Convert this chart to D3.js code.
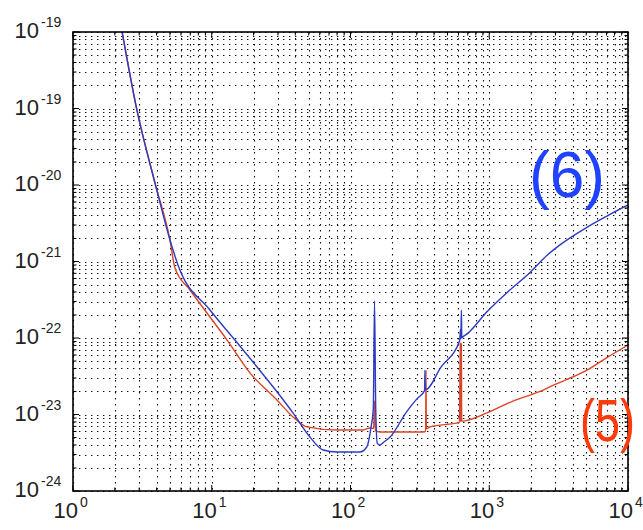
<!DOCTYPE html>
<html>
<head>
<meta charset="utf-8">
<script src="https://cdn.jsdelivr.net/npm/d3@7"></script>
<style>
  html, body { margin: 0; padding: 0; background: #fff; }
  #chart { width: 643px; height: 530px; }
  text { font-family: "Liberation Sans", Arial, sans-serif; }
</style>
</head>
<body>
<div id="chart"></div>
<script>
// Datos (frecuencia en Hz, amplitud)
const curve6Freq = [2.26, 2.89, 3.9, 5.0, 5.71, 9.71, 14.7, 21.2, 30, 38.5, 51, 63.4, 80, 117, 131, 140, 146, 149, 152, 156, 163, 175, 193, 255, 301, 342, 344, 346, 450, 612, 620, 624, 630, 634, 640, 700, 963, 1400, 1967, 2600, 3235, 5060, 7000, 10000];
const curve6Amp = [1.0e-18, 9.5e-20, 1.06e-20, 1.91e-21, 9.0e-22, 2.32e-22, 9.4e-23, 4.18e-23, 1.91e-23, 1.05e-23, 5.08e-24, 3.44e-24, 3.24e-24, 3.24e-24, 3.76e-24, 6.5e-24, 1.2e-23, 3.05e-22, 1.2e-23, 4.2e-24, 4.0e-24, 4.4e-24, 5.08e-24, 1.1e-23, 1.6e-23, 2.05e-23, 3.8e-23, 2.1e-23, 4.2e-23, 9.2e-23, 1.3e-22, 9.8e-23, 2.32e-22, 1.0e-22, 1.02e-22, 1.15e-22, 2.2e-22, 4.2e-22, 7.2e-22, 1.2e-21, 1.65e-21, 2.8e-21, 3.9e-21, 5.48e-21];

const curve5Freq = [2.26, 2.89, 3.9, 5.0, 5.43, 6.97, 9.71, 12.9, 18.9, 29.5, 38.5, 48.6, 80, 123, 138, 147, 149, 151, 163, 317, 348, 350, 352, 374, 610, 618, 621, 624, 627, 630, 633, 963, 1483, 2322, 2878, 4000, 5060, 7000, 10000];
const curve5Amp = [1.0e-18, 9.5e-20, 1.06e-20, 1.91e-21, 8.2e-22, 4.24e-22, 1.88e-22, 9.4e-23, 3.48e-23, 1.55e-23, 9.3e-24, 6.9e-24, 6.27e-24, 6.27e-24, 6.67e-24, 6.6e-24, 1.5e-23, 6.2e-24, 5.9e-24, 5.9e-24, 6.0e-24, 3.8e-23, 6.5e-24, 6.9e-24, 7.9e-24, 8.6e-23, 8.0e-24, 8.6e-23, 8.1e-24, 8.6e-23, 8.2e-24, 1.05e-23, 1.5e-23, 2.0e-23, 2.4e-23, 3.1e-23, 3.8e-23, 5.5e-23, 8.1e-23];

// Etiquetas de los ejes tal como aparecen (la de arriba repite -19)
const xTickValues = [1, 10, 100, 1000, 10000];
const xTickExp = ["0", "1", "2", "3", "4"];
const yTickValues = [1e-24, 1e-23, 1e-22, 1e-21, 1e-20, 1e-19, 1e-18];
const yTickExp = ["-24", "-23", "-22", "-21", "-20", "-19", "-19"];

const seriesLabels = ["(6)", "(5)"];

const COLORS = { C6: "#2d3bc0", C5: "#dc4427", L6: "#1f43ff", L5: "#ff3a0a" };

const W = 643, H = 530;
const M = { left: 73, right: 628, top: 32, bottom: 491 };

const svg = d3.select("#chart").append("svg")
  .attr("width", W).attr("height", H)
  .attr("viewBox", [0, 0, W, H]);

const x = d3.scaleLog().domain([1, 1e4]).range([M.left, M.right]);
const y = d3.scaleLog().domain([1e-24, 1e-18]).range([M.bottom, M.top]);

const isMajor = (v) => Math.abs(Math.log10(v) - Math.round(Math.log10(v))) < 1e-6;

// Rejilla punteada
const grid = svg.append("g")
  .attr("stroke", "#111")
  .attr("stroke-width", 1.1)
  .attr("stroke-dasharray", "1.4,4.6");

grid.selectAll("line.gx")
  .data(x.ticks())
  .join("line")
  .attr("class", "gx")
  .attr("x1", (d) => Math.round(x(d)) + 0.5)
  .attr("x2", (d) => Math.round(x(d)) + 0.5)
  .attr("y1", M.top)
  .attr("y2", M.bottom);

grid.selectAll("line.gy")
  .data(y.ticks())
  .join("line")
  .attr("class", "gy")
  .attr("y1", (d) => Math.round(y(d)) + 0.5)
  .attr("y2", (d) => Math.round(y(d)) + 0.5)
  .attr("x1", M.left)
  .attr("x2", M.right);

// Curvas
svg.append("defs").append("clipPath").attr("id", "plot-clip")
  .append("rect")
  .attr("x", M.left).attr("y", M.top)
  .attr("width", M.right - M.left).attr("height", M.bottom - M.top);

const line = d3.line()
  .x((d) => x(d[0]))
  .y((d) => y(d[1]))
  .curve(d3.curveMonotoneX);

const curves = svg.append("g").attr("clip-path", "url(#plot-clip)").attr("fill", "none");

curves.append("path")
  .datum(d3.zip(curve5Freq, curve5Amp))
  .attr("d", line)
  .attr("stroke", COLORS.C5)
  .attr("stroke-width", 1.4);

curves.append("path")
  .datum(d3.zip(curve6Freq, curve6Amp))
  .attr("d", line)
  .attr("stroke", COLORS.C6)
  .attr("stroke-width", 1.4);

// Marcas hacia dentro en los cuatro lados
const ticks = svg.append("g").attr("stroke", "#000").attr("stroke-width", 1);

const tl = (d) => (isMajor(d) ? 6 : 3.5);

ticks.selectAll("line.tb")
  .data(x.ticks())
  .join("line")
  .attr("class", "tb")
  .attr("x1", (d) => x(d)).attr("x2", (d) => x(d))
  .attr("y1", M.bottom).attr("y2", (d) => M.bottom - tl(d));

ticks.selectAll("line.tt")
  .data(x.ticks())
  .join("line")
  .attr("class", "tt")
  .attr("x1", (d) => x(d)).attr("x2", (d) => x(d))
  .attr("y1", M.top).attr("y2", (d) => M.top + tl(d));

ticks.selectAll("line.tl")
  .data(y.ticks())
  .join("line")
  .attr("class", "tl")
  .attr("y1", (d) => y(d)).attr("y2", (d) => y(d))
  .attr("x1", M.left).attr("x2", (d) => M.left + tl(d));

ticks.selectAll("line.tr")
  .data(y.ticks())
  .join("line")
  .attr("class", "tr")
  .attr("y1", (d) => y(d)).attr("y2", (d) => y(d))
  .attr("x1", M.right).attr("x2", (d) => M.right - tl(d));

// Marco
svg.append("rect")
  .attr("x", M.left).attr("y", M.top)
  .attr("width", M.right - M.left).attr("height", M.bottom - M.top)
  .attr("fill", "none")
  .attr("stroke", "#000")
  .attr("stroke-width", 1.6);

// Etiquetas del eje x
const xLab = svg.append("g").attr("fill", "#222");
xTickValues.forEach((v, i) => {
  xLab.append("text")
    .attr("x", x(v) + 5).attr("y", 518)
    .attr("text-anchor", "end")
    .attr("font-size", 22)
    .text("10");
  xLab.append("text")
    .attr("x", x(v) + 7).attr("y", 507)
    .attr("font-size", 14)
    .text(xTickExp[i]);
});

// Etiquetas del eje y
const yLab = svg.append("g").attr("fill", "#222");
yTickValues.forEach((v, i) => {
  yLab.append("text")
    .attr("x", 39).attr("y", y(v) + 6)
    .attr("text-anchor", "end")
    .attr("font-size", 22)
    .text("10");
  yLab.append("text")
    .attr("x", 41).attr("y", y(v) - 5)
    .attr("font-size", 14)
    .text(yTickExp[i]);
});

// Rotulos de las curvas
svg.append("text")
  .attr("x", 529).attr("y", 197)
  .attr("font-size", 64)
  .attr("textLength", 76)
  .attr("lengthAdjust", "spacingAndGlyphs")
  .attr("fill", COLORS.L6)
  .text(seriesLabels[0]);

svg.append("text")
  .attr("x", 580).attr("y", 441)
  .attr("font-size", 60)
  .attr("textLength", 55)
  .attr("lengthAdjust", "spacingAndGlyphs")
  .attr("fill", COLORS.L5)
  .text(seriesLabels[1]);
</script>
</body>
</html>
